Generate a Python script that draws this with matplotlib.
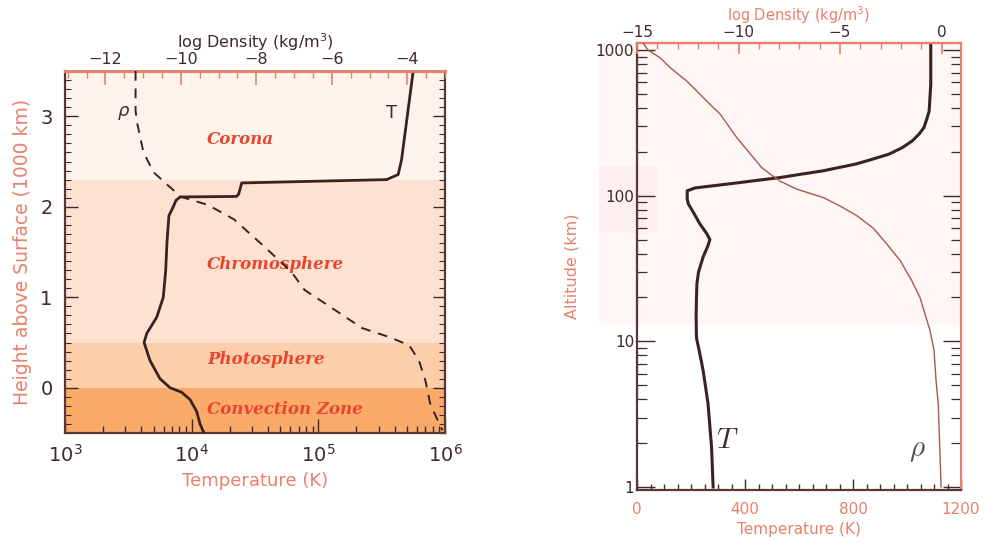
import numpy as np
import matplotlib
matplotlib.use('Agg')
import matplotlib.pyplot as plt
from matplotlib.ticker import (LogLocator, MultipleLocator, FixedLocator,
                               NullFormatter, FixedFormatter, LogFormatterMathtext)

# ---------------- data: Sun (left panel) ----------------
sun_height = [-0.5, -0.40, -0.26, -0.13, -0.05, 0.0, 0.10, 0.30, 0.50, 0.60, 0.78,
              1.0, 1.3, 1.6, 1.9, 2.0, 2.07, 2.108, 2.114, 2.14, 2.263, 2.30,
              2.356, 2.52, 3.5]
sun_temp = [12500, 11640, 10940, 9700, 8340, 6750, 5620, 4690, 4210, 4420, 5300,
            5970, 6240, 6380, 6610, 7160, 7520, 8090, 22650, 23500, 24830, 346000,
            427000, 454000, 561000]

sun_rho_height = [3.5, 3.06, 2.91, 2.6, 2.38, 2.24, 2.11, 2.02, 1.86, 1.56, 1.28,
                  1.08, 0.86, 0.66, 0.56, 0.47, 0.3, 0.08, -0.18, -0.4, -0.47]
sun_log_rho = [-11.2, -11.2, -11.15, -10.99, -10.72, -10.35, -10.0, -9.28, -8.59,
               -7.79, -7.07, -6.72, -5.92, -5.2, -4.48, -3.95, -3.69, -3.52, -3.39,
               -3.15, -3.07]

layer_bounds = [-0.5, 0.0, 0.5, 2.3, 3.5]
layer_names = ['Convection Zone', 'Photosphere', 'Chromosphere', 'Corona']
layer_colors = ['#FBAB69', '#FCCEAA', '#FDE2D1', '#FEF4EB']

# ---------------- data: Earth (right panel) ----------------
earth_alt = [1.0, 1.89, 3.74, 6.3, 8.7, 10.4, 11, 15, 19, 25, 30, 38, 45, 50, 55,
             64, 75, 88, 95, 108, 113, 118, 123, 128, 133, 141, 148, 165, 178, 193,
             214, 238, 265, 294, 344, 380, 582, 1117]
earth_temp = [282, 276, 263, 245, 230, 221, 220, 219, 220, 222, 228, 245, 262, 270,
              258, 233, 212, 190, 186, 186, 215, 300, 380, 454, 528, 614, 688, 811,
              872, 934, 983, 1020, 1045, 1063, 1075, 1082, 1088, 1088]

earth_rho_alt = [1.0, 3.74, 5.4, 8.7, 11.9, 20, 26.2, 35.9, 46.7, 60, 73, 85, 97,
                 111, 126, 141, 156, 183, 214, 251, 302, 364, 413, 470, 538, 612,
                 682, 758, 886, 1000, 1117]
earth_log_rho = [-0.02, -0.16, -0.27, -0.37, -0.57, -1.06, -1.47, -2.04, -2.70,
                 -3.37, -4.18, -5.0, -5.82, -7.14, -7.96, -8.45, -8.86, -9.27, -9.68,
                 -10.09, -10.50, -10.91, -11.32, -11.73, -12.14, -12.55, -12.97,
                 -13.37, -13.87, -14.46, -14.7]

# ---------------- styles ----------------
SALMON = '#E8806C'
DARK = '#3E2A2A'
LINE = '#3A2222'
RED = '#E8452F'

plt.rcParams['font.family'] = ['DejaVu Sans']
fig = plt.figure(figsize=(9.84, 5.48), dpi=100)

# ================= left panel =================
ax = fig.add_axes([65/984, 1-433/548, 380/984, 362/548])
ax.set_xscale('log')
ax.set_xlim(1e3, 1e6)
ax.set_ylim(-0.5, 3.5)
for lo, hi, c in zip(layer_bounds[:-1], layer_bounds[1:], layer_colors):
    ax.axhspan(lo, hi, color=c, lw=0, zorder=0)

label_y = [-0.24, 0.31, 1.36, 2.74]
for name, yy in zip(layer_names, label_y):
    ax.text(13200, yy, name, color=RED, fontsize=12, fontstyle='italic',
            fontweight='bold', family='DejaVu Serif', ha='left', va='center')

ax.plot(sun_temp, sun_height, color=LINE, lw=2.0, zorder=3)
ax.text(3.8e5, 3.04, 'T', color=DARK, fontsize=13, ha='center', va='center')

ax.xaxis.set_major_locator(LogLocator(base=10, numticks=10))
ax.xaxis.set_minor_locator(LogLocator(base=10, subs=np.arange(2, 10), numticks=10))
ax.xaxis.set_major_formatter(LogFormatterMathtext())
ax.yaxis.set_major_locator(MultipleLocator(1))
ax.yaxis.set_minor_locator(MultipleLocator(0.1))
ax.tick_params(axis='x', which='both', direction='in', top=False, bottom=True,
               colors=DARK, labelsize=14, pad=8)
ax.tick_params(axis='x', which='major', length=10, width=1)
ax.tick_params(axis='x', which='minor', length=5, width=1)
ax.tick_params(axis='y', which='both', direction='in', left=True, right=True,
               colors=DARK, labelsize=14, pad=9)
ax.tick_params(axis='y', which='major', length=9, width=1)
ax.tick_params(axis='y', which='minor', length=4, width=0.8)
ax.set_xlabel('Temperature (K)', color=SALMON, fontsize=13, labelpad=4)
ax.set_ylabel('Height above Surface (1000 km)', color=SALMON, fontsize=13.5, labelpad=6)
for s in ['left', 'bottom', 'right']:
    ax.spines[s].set_color('#5A3636')
    ax.spines[s].set_linewidth(1.6)
ax.spines['top'].set_color(SALMON)
ax.spines['top'].set_linewidth(2)

axt = ax.twiny()
axt.set_xlim(-13.07, -3.0)
axt.plot(sun_log_rho, sun_rho_height, color=LINE, lw=1.4, ls=(0, (5, 4)), zorder=3)
axt.text(-11.52, 3.04, r'$\rho$', color=DARK, fontsize=13, ha='center', va='center')
axt.xaxis.set_major_locator(MultipleLocator(2))
axt.xaxis.set_minor_locator(MultipleLocator(0.5))
axt.tick_params(axis='x', which='both', direction='in', colors=SALMON, labelcolor=DARK,
                labelsize=11.5, pad=3)
axt.tick_params(axis='x', which='major', length=10, width=1.2)
axt.tick_params(axis='x', which='minor', length=5, width=1)
axt.set_xlabel('log Density (kg/m$^3$)', color=DARK, fontsize=11.5, labelpad=3)
axt.spines['top'].set_color(SALMON)
axt.spines['top'].set_linewidth(2)
for s in ['left', 'bottom', 'right']:
    axt.spines[s].set_visible(False)

# ================= right panel =================
bx = fig.add_axes([637/984, 1-490/548, 324/984, 447/548])
bx.set_yscale('log')
bx.set_xlim(0, 1200)
bx.set_ylim(0.954, 1117)
bx.axhspan(12.9, 1117, xmin=-0.117, xmax=1, color='#FFF6F6', lw=0, zorder=0, clip_on=False)
bx.axhspan(55, 160, xmin=-0.117, xmax=0.065, color='#FEF0F0', lw=0, zorder=0, clip_on=False)

bx.plot(earth_temp, earth_alt, color=LINE, lw=2.2, zorder=3)
bx.text(335, 2.1, r'$T$', fontsize=21, color=DARK, ha='center', va='center',
        math_fontfamily='cm')
bx.text(1040, 1.8, r'$\rho$', fontsize=21, color='#555050', ha='center', va='center',
        math_fontfamily='cm')

bx.yaxis.set_major_locator(FixedLocator([1, 10, 100, 1000]))
bx.yaxis.set_major_formatter(FixedFormatter(['1', '10', '100', '1000']))
bx.yaxis.set_minor_locator(LogLocator(base=10, subs=np.arange(2, 10), numticks=10))
bx.yaxis.set_minor_formatter(NullFormatter())
bx.xaxis.set_major_locator(MultipleLocator(400))
bx.xaxis.set_minor_locator(MultipleLocator(50))
bx.tick_params(axis='x', which='both', direction='in', top=False, bottom=True,
               colors=DARK, labelcolor=SALMON, labelsize=11, pad=9)
bx.tick_params(axis='x', which='major', length=8, width=1)
bx.tick_params(axis='x', which='minor', length=4, width=1)
bx.tick_params(axis='y', which='both', direction='in', left=True, right=True,
               colors=DARK, labelsize=11, pad=2)
bx.tick_params(axis='y', which='major', length=13, width=1)
bx.tick_params(axis='y', which='minor', length=7, width=0.9)
bx.set_xlabel('Temperature (K)', color=SALMON, fontsize=11, labelpad=3)
bx.set_ylabel('Altitude (km)', color=SALMON, fontsize=11.5, labelpad=12)
for s in ['left', 'bottom']:
    bx.spines[s].set_color('#5A3636')
    bx.spines[s].set_linewidth(1.6)
for s in ['right', 'top']:
    bx.spines[s].set_color(SALMON)
    bx.spines[s].set_linewidth(1.6)

bxt = bx.twiny()
bxt.set_xlim(-15, 0.96)
bxt.plot(earth_log_rho, earth_rho_alt, color='#A8584E', lw=1.0, zorder=3)
bxt.xaxis.set_major_locator(MultipleLocator(5))
bxt.xaxis.set_minor_locator(MultipleLocator(1))
bxt.tick_params(axis='x', which='both', direction='in', colors=SALMON, labelcolor=DARK,
                labelsize=11, pad=2)
bxt.tick_params(axis='x', which='major', length=8, width=1.2)
bxt.tick_params(axis='x', which='minor', length=4, width=1)
bxt.set_xlabel('log Density (kg/m$^3$)', color=SALMON, fontsize=10.5, labelpad=3)
bxt.spines['top'].set_color(SALMON)
bxt.spines['top'].set_linewidth(1.6)
for s in ['left', 'bottom', 'right']:
    bxt.spines[s].set_visible(False)

fig.savefig('out.png', dpi=100)
